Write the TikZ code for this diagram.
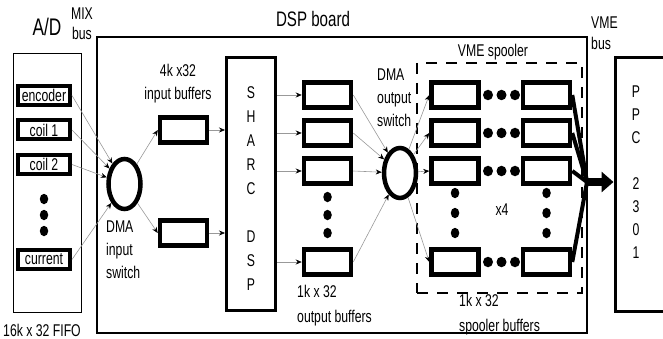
\documentclass[tikz,border=0pt]{standalone}
\usepackage{fontspec}
\setmainfont[FakeStretch=0.72]{Liberation Sans}
\usetikzlibrary{shapes.geometric,arrows.meta,positioning}

\begin{document}
\begin{tikzpicture}[%
    x=1pt, y=-1pt,
    >={Stealth[length=6pt,width=5pt,black]},
    on grid,
    font=\fontsize{17}{23}\selectfont,
    buf/.style={draw, line width=4.5pt, minimum width=47pt, minimum height=25pt, inner sep=0pt},
    srcbox/.style={draw, line width=4pt, minimum width=52pt, minimum height=19pt, inner sep=0pt},
    dot/.style={ellipse, fill, inner sep=0pt, minimum width=8.5pt, minimum height=10.5pt},
    switch/.style={ellipse, draw, line width=4.5pt, minimum width=32pt, minimum height=50pt},
    wire/.style={->, gray!80, line width=0.6pt},
    txt/.style={align=left, inner sep=0pt}
  ]
  \useasboundingbox (0,0) rectangle (663,339);

  \node[draw, line width=1.5pt, minimum width=68pt, minimum height=259pt] (ad) at (47.5,183) {};
  \node[font=\fontsize{24}{24}\selectfont] (adlbl) at (47,27) {A/D};
  \node (fifo) at (42,330) {16k x 32 FIFO};
  \node[align=center, font=\fontsize{17}{20}\selectfont] (mix) at (82,24) {MIX\\bus};

  \node[srcbox] (enc) at (44,95.5) {encoder};
  \node[srcbox] (coil1) [below=34.5pt of enc] {coil 1};
  \node[srcbox] (coil2) [below=34.5pt of coil1] {coil 2};
  \node[dot] (sd1) [below=34.5pt of coil2] {};
  \node[dot] (sd2) [below=16pt of sd1] {};
  \node[dot] (sd3) [below=16pt of sd2] {};
  \node[srcbox] (cur) [below=28.5pt of sd3] {current};

  \node[draw, line width=2pt, minimum width=490pt, minimum height=296pt] (dsp) at (342,185) {};
  \node[font=\fontsize{21}{21}\selectfont] (dsplbl) at (313,19) {DSP board};

  \node[switch] (din) at (124.5,184) {};
  \node[txt, anchor=west] (dinlbl) at (106,250) {DMA\\input\\switch};

  \node[buf] (ib1) at (183.5,130) {};
  \node[buf] (ib2) [below=103pt of ib1] {};
  \node[align=center] (iblbl) at (178,84) {4k x32\\input buffers};

  \node[draw, line width=3pt, minimum width=49pt, minimum height=253pt] (sharc) at (251,184) {};
  \node[align=center, font=\fontsize{17}{24}\selectfont] (sharctxt) at ([yshift=-5pt]sharc.center) {S\\H\\A\\R\\C\\[24pt]D\\S\\P};

  \node[buf] (ob1) at (327.5,95) {};
  \node[buf] (ob2) [below=38pt of ob1] {};
  \node[buf] (ob3) [below=38pt of ob2] {};
  \node[dot] (od1) [below=26pt of ob3] {};
  \node[dot] (od2) [below=18pt of od1] {};
  \node[dot] (od3) [below=18pt of od2] {};
  \node[buf] (ob4) [below=29pt of od3] {};
  \node[txt, anchor=west, font=\fontsize{17}{25}\selectfont] (oblbl) at (297,305.5) {1k x 32\\output buffers};

  \node[switch] (dout) at (400,173) {};
  \node[txt, anchor=west] (doutlbl) at (377,98) {DMA\\output\\switch};

  \node[draw, line width=2.5pt, dash pattern=on 11pt off 9pt, minimum width=165pt, minimum height=230pt] (spool) at (499.5,178) {};
  \node (spoollbl) at (493,52) {VME spooler};

  \node[buf] (sl1) at (455,95) {};
  \node[buf] (sl2) [below=38pt of sl1] {};
  \node[buf] (sl3) [below=38pt of sl2] {};
  \node[buf] (sl4) [below=91pt of sl3] {};
  \node[buf] (sr1) [right=91.5pt of sl1] {};
  \node[buf] (sr2) [right=91.5pt of sl2] {};
  \node[buf] (sr3) [right=91.5pt of sl3] {};
  \node[buf] (sr4) [right=91.5pt of sl4] {};

  \node[dot, minimum width=10pt] (h1b) [right=46.5pt of sl1] {};
  \node[dot, minimum width=10pt] (h1a) [left=13.5pt of h1b] {};
  \node[dot, minimum width=10pt] (h1c) [right=13.5pt of h1b] {};
  \node[dot, minimum width=10pt] (h2b) [right=46.5pt of sl2] {};
  \node[dot, minimum width=10pt] (h2a) [left=13.5pt of h2b] {};
  \node[dot, minimum width=10pt] (h2c) [right=13.5pt of h2b] {};
  \node[dot, minimum width=10pt] (h3b) [right=46.5pt of sl3] {};
  \node[dot, minimum width=10pt] (h3a) [left=13.5pt of h3b] {};
  \node[dot, minimum width=10pt] (h3c) [right=13.5pt of h3b] {};
  \node[dot, minimum width=10pt] (h4b) [right=46.5pt of sl4] {};
  \node[dot, minimum width=10pt] (h4a) [left=13.5pt of h4b] {};
  \node[dot, minimum width=10pt] (h4c) [right=13.5pt of h4b] {};

  \node[dot] (vl1) [below=22pt of sl3] {};
  \node[dot] (vl2) [below=20pt of vl1] {};
  \node[dot] (vl3) [below=20pt of vl2] {};
  \node[dot] (vr1) [below=22pt of sr3] {};
  \node[dot] (vr2) [below=20pt of vr1] {};
  \node[dot] (vr3) [below=20pt of vr2] {};

  \node (times) at (502,210) {x4};
  \node[txt, anchor=west, font=\fontsize{17}{25}\selectfont] (sblbl) at (459,314.5) {1k x 32\\spooler buffers};

  \node[txt, anchor=west, font=\fontsize{17}{21}\selectfont] (vme) at (591,33) {VME\\bus};
  \node[draw, line width=3pt, minimum width=60pt, minimum height=253pt] (ppc) at (645,184.5) {};
  \node[align=center] (ppctxt) at (636,172.5) {P\\P\\C\\[23pt]2\\3\\0\\1};

  \draw[wire] (enc.east) -- (din);
  \draw[wire] (coil1.east) -- (din);
  \draw[wire] (coil2.east) -- (din);
  \draw[wire] (cur.east) -- (din);

  \draw[wire] (din) -- (ib1.west);
  \draw[wire] (din) -- (ib2.west);
  \draw[wire] (ib1.east) -- (ib1.east -| sharc.west);
  \draw[wire] (ib2.east) -- (ib2.east -| sharc.west);

  \draw[wire] (sharc.east |- ob1) -- (ob1.west);
  \draw[wire] (sharc.east |- ob2) -- (ob2.west);
  \draw[wire] (sharc.east |- ob3) -- (ob3.west);
  \draw[wire] (sharc.east |- ob4) -- (ob4.west);

  \draw[wire] (ob1.east) -- (dout);
  \draw[wire] (ob2.east) -- (dout);
  \draw[wire] (ob3.east) -- (dout);
  \draw[wire] (ob4.east) -- (dout);

  \draw[wire] (dout) -- (sl1.west);
  \draw[wire] (dout) -- (sl2.west);
  \draw[wire] (dout) -- (sl3.west);
  \draw[wire] (dout) -- (sl4.west);

  \coordinate (hub) at (587,182);
  \draw[line width=4pt] (sr1.east) -- (hub);
  \draw[line width=4pt] (sr2.east) -- (hub);
  \draw[line width=4pt] (sr3.east) -- (hub);
  \draw[line width=4pt] (sr4.east) -- (hub);
  \draw[line width=8pt, -{Triangle[length=12pt,width=20pt]}] (hub) -- (hub -| ppc.west);

\end{tikzpicture}
\end{document}
